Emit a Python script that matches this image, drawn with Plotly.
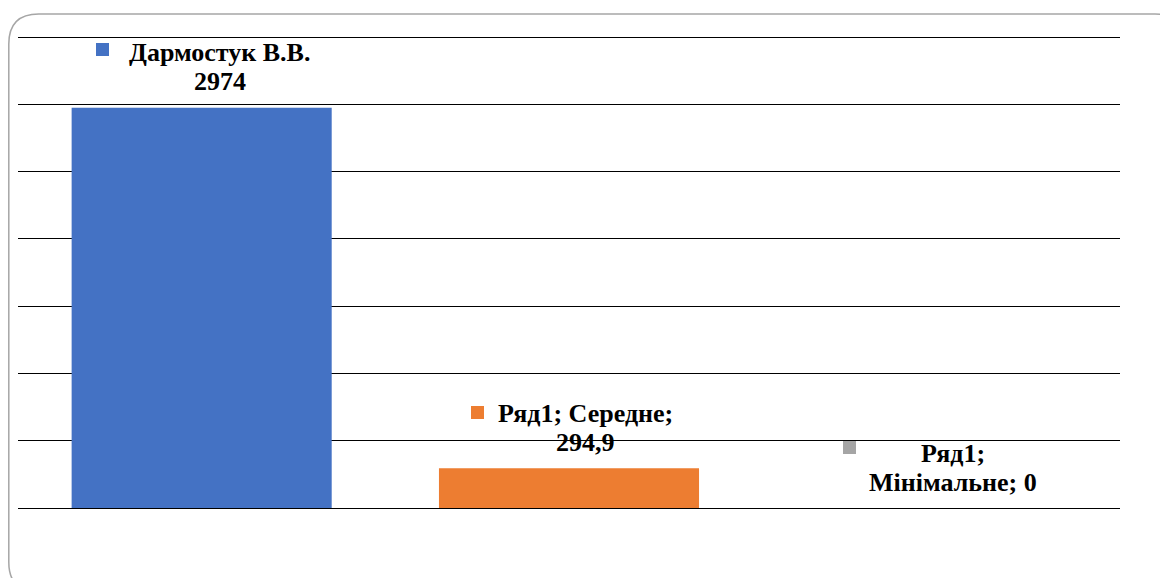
import plotly.graph_objects as go

categories = ["Дармостук В.В.", "Середне", "Мінімальне"]
values = [2974, 294.9, 0]
colors = ["#4472C4", "#ED7D31", "#A5A5A5"]
label_line1 = ["Дармостук В.В.", "Ряд1; Середне;", "Ряд1;"]
label_line2 = ["2974", "294,9", "Мінімальне; 0"]

# page has an 8px body margin; figure sized to fit the window
OFF = 8
W, H = 1168 - OFF, 578 - OFF
pw, ph = 1102, 474
L, T = 18 - OFF, 34 - OFF
R, B = W - L - pw, H - T - ph
ymax = 3500 * ph / 471.0  # leave a little room so the 3500 gridline is drawn

fig = go.Figure()
fig.add_trace(go.Bar(x=categories, y=values, marker=dict(color=colors, line=dict(width=0)),
                     showlegend=False, hoverinfo="skip"))

font = dict(family="Liberation Serif, Times New Roman, serif", size=26, color="#000000")
label_dx = [18, 16, 17]
sq_dx = [-99, -92, -87]
sq_dy = [58, 56, 61]
for i, c in enumerate(categories):
    fig.add_annotation(x=c, y=values[i], text="<b>%s</b>" % label_line1[i], showarrow=False,
                       xanchor="center", yanchor="middle", xshift=label_dx[i], yshift=55, font=font)
    fig.add_annotation(x=c, y=values[i], text="<b>%s</b>" % label_line2[i], showarrow=False,
                       xanchor="center", yanchor="middle", xshift=label_dx[i], yshift=26, font=font)
    fig.add_annotation(x=c, y=values[i], text=" ", showarrow=False, width=13, height=13,
                       bgcolor=colors[i], borderpad=0, borderwidth=0,
                       xanchor="center", yanchor="middle", xshift=sq_dx[i], yshift=sq_dy[i],
                       font=dict(size=6))

# decorative rounded border (figure pixel -> paper)
def px(x):
    return (x - L) / pw
def py(y):
    return (H - B - y) / ph

x0, y0, x1, y1, r = 0.8, 6, 1177, 584, 30
path = (f"M {px(x0)},{py(y0 + r)} Q {px(x0)},{py(y0)} {px(x0 + r)},{py(y0)} "
        f"L {px(x1 - r)},{py(y0)} Q {px(x1)},{py(y0)} {px(x1)},{py(y0 + r)} "
        f"L {px(x1)},{py(y1 - r)} Q {px(x1)},{py(y1)} {px(x1 - r)},{py(y1)} "
        f"L {px(x0 + r)},{py(y1)} Q {px(x0)},{py(y1)} {px(x0)},{py(y1 - r)} Z")
fig.add_shape(type="path", path=path, xref="paper", yref="paper",
              line=dict(color="#A6A6A6", width=1.5), layer="below")

fig.update_layout(
    width=W, height=H,
    margin=dict(l=L, r=R, t=T, b=B),
    paper_bgcolor="white", plot_bgcolor="white",
    bargap=0.292,
    xaxis=dict(showticklabels=False, showgrid=False, zeroline=False, showline=False),
    yaxis=dict(range=[0, ymax], tick0=0, dtick=500, showticklabels=False, showgrid=True,
               gridcolor="#000000", gridwidth=1.3, zeroline=True, zerolinecolor="#000000",
               zerolinewidth=1.3, showline=False),
)
fig.write_html("out.html")
